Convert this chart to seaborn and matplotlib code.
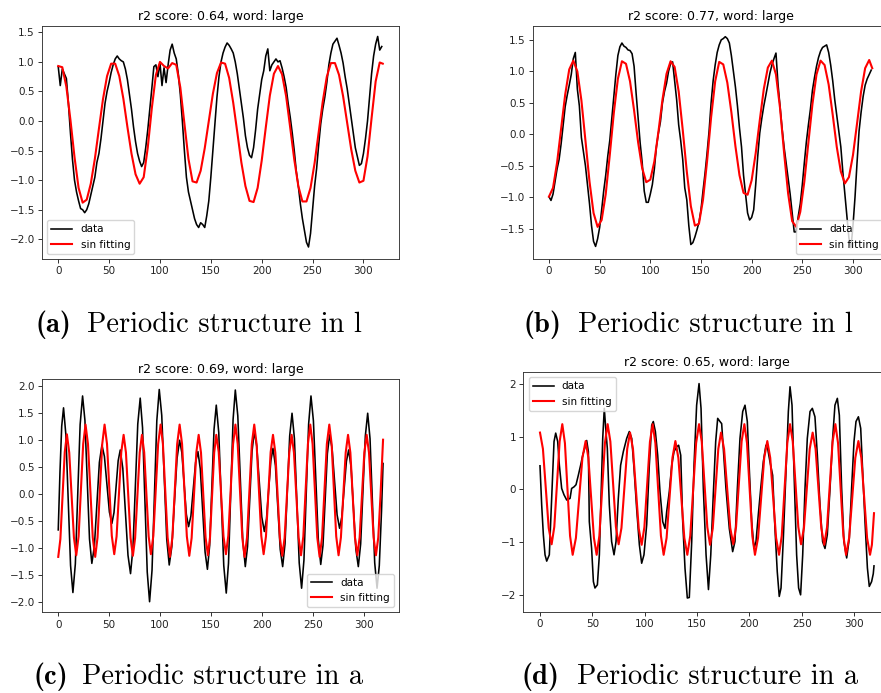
import numpy as np
import matplotlib
matplotlib.use("Agg")
import matplotlib.pyplot as plt
import seaborn as sns

# ---------------- data ----------------
titles = ["r2 score: 0.64, word: large", "r2 score: 0.77, word: large",
          "r2 score: 0.69, word: large", "r2 score: 0.65, word: large"]
caption_tags = ["(a)", "(b)", "(c)", "(d)"]
caption_texts = ["Periodic structure in l", "Periodic structure in l",
                 "Periodic structure in a", "Periodic structure in a"]
legend_labels = ["data", "sin fitting"]

x_data_ab = list(range(0, 320, 2))
x_fit_ab = list(range(0, 317, 4)) + [319]

data_a = [0.92, 0.60, 0.88, 0.80, 0.72, 0.30, -0.20, -0.65, -1.00, -1.20,
          -1.35, -1.48, -1.50, -1.55, -1.50, -1.40, -1.25, -1.10, -0.95, -0.70,
          -0.55, -0.30, 0.00, 0.30, 0.50, 0.65, 0.82, 0.95, 1.05, 1.10,
          1.05, 1.02, 1.00, 0.88, 0.70, 0.45, 0.20, -0.10, -0.35, -0.55,
          -0.68, -0.77, -0.70, -0.45, -0.15, 0.20, 0.55, 0.92, 0.95, 0.75,
          0.98, 0.60, 0.90, 0.65, 0.95, 1.20, 1.30, 1.15, 1.05, 0.80,
          0.45, 0.00, -0.50, -0.95, -1.20, -1.35, -1.50, -1.65, -1.75, -1.80,
          -1.72, -1.75, -1.80, -1.60, -1.35, -0.95, -0.50, -0.05, 0.40, 0.75,
          1.00, 1.15, 1.25, 1.32, 1.28, 1.22, 1.15, 1.00, 0.80, 0.55,
          0.30, 0.05, -0.25, -0.45, -0.58, -0.62, -0.45, -0.15, 0.20, 0.45,
          0.70, 0.85, 1.10, 1.22, 0.85, 0.95, 1.00, 1.05, 1.00, 1.02,
          0.90, 0.75, 0.57, 0.30, 0.07, -0.20, -0.50, -0.85, -1.10, -1.40,
          -1.65, -1.85, -2.05, -2.13, -1.90, -1.50, -1.10, -0.80, -0.40, -0.05,
          0.20, 0.40, 0.65, 0.95, 1.15, 1.30, 1.35, 1.40, 1.28, 1.15,
          0.98, 0.75, 0.55, 0.30, 0.05, -0.20, -0.45, -0.60, -0.75, -0.72,
          -0.55, -0.30, 0.00, 0.40, 0.80, 1.10, 1.30, 1.43, 1.20, 1.26]

fit_a = [0.93, 0.91, 0.58, 0.02, -0.61, -1.13, -1.38, -1.33, -1.06, -0.64,
         -0.13, 0.37, 0.76, 0.97, 0.97, 0.76, 0.38, -0.10, -0.55, -0.90,
         -1.06, -0.95, -0.45, 0.22, 0.78, 1.00, 0.93, 0.89, 0.98, 0.95,
         0.57, -0.04, -0.64, -1.02, -1.04, -0.84, -0.46, 0.00, 0.46, 0.81,
         0.99, 0.97, 0.73, 0.31, -0.19, -0.70, -1.10, -1.35, -1.37, -1.13,
         -0.67, -0.11, 0.43, 0.80, 0.93, 0.79, 0.42, -0.11, -0.65, -1.10,
         -1.36, -1.36, -1.13, -0.71, -0.19, 0.33, 0.75, 0.98, 0.98, 0.78,
         0.42, -0.03, -0.48, -0.84, -1.04, -1.01, -0.60, 0.05, 0.67, 0.99, 0.97]

data_b = [-0.99, -1.05, -0.95, -0.75, -0.55, -0.40, -0.15, 0.15, 0.44, 0.62,
          0.78, 0.95, 1.20, 1.30, 0.72, 0.45, -0.05, -0.28, -0.50, -0.80,
          -1.10, -1.45, -1.70, -1.78, -1.66, -1.48, -1.20, -0.90, -0.65, -0.35,
          -0.10, 0.25, 0.60, 0.95, 1.25, 1.39, 1.45, 1.40, 1.38, 1.34,
          1.33, 1.28, 1.08, 0.65, 0.25, -0.14, -0.45, -0.90, -1.08, -1.08,
          -0.95, -0.80, -0.55, -0.20, 0.02, 0.20, 0.50, 0.68, 0.81, 1.00,
          1.12, 1.15, 0.85, 0.55, 0.15, -0.10, -0.40, -0.85, -1.04, -1.45,
          -1.75, -1.72, -1.63, -1.52, -1.40, -1.20, -0.90, -0.62, -0.30, 0.05,
          0.50, 0.85, 1.10, 1.30, 1.42, 1.50, 1.52, 1.55, 1.52, 1.45,
          1.25, 1.00, 0.75, 0.45, 0.10, -0.20, -0.65, -0.95, -1.25, -1.36,
          -1.32, -1.20, -0.80, -0.35, 0.02, 0.25, 0.45, 0.62, 0.80, 0.97,
          1.10, 1.20, 1.29, 0.80, 0.45, 0.10, -0.20, -0.45, -0.70, -0.95,
          -1.25, -1.55, -1.55, -1.30, -1.10, -0.80, -0.45, -0.12, 0.15, 0.40,
          0.70, 0.90, 1.08, 1.22, 1.32, 1.38, 1.40, 1.42, 1.30, 1.10,
          0.85, 0.55, 0.30, 0.05, -0.20, -0.60, -0.95, -1.30, -1.65, -1.80,
          -1.45, -1.00, -0.45, 0.05, 0.35, 0.60, 0.78, 0.88, 0.95, 1.02]

fit_b = [-0.99, -0.85, -0.45, 0.09, 0.63, 1.03, 1.17, 1.00, 0.54, -0.10,
         -0.75, -1.25, -1.47, -1.36, -0.95, -0.33, 0.34, 0.88, 1.16, 1.12,
         0.84, 0.38, -0.13, -0.54, -0.76, -0.72, -0.43, 0.04, 0.55, 0.96,
         1.16, 1.07, 0.68, 0.07, -0.59, -1.14, -1.45, -1.42, -1.04, -0.43,
         0.27, 0.84, 1.15, 1.11, 0.82, 0.35, -0.19, -0.65, -0.93, -0.96,
         -0.73, -0.30, 0.22, 0.72, 1.06, 1.17, 0.95, 0.42, -0.29, -0.94,
         -1.38, -1.47, -1.23, -0.75, -0.13, 0.48, 0.95, 1.17, 1.10, 0.79,
         0.31, -0.20, -0.59, -0.78, -0.68, -0.33, 0.17, 0.68, 1.05, 1.18, 1.05]

x_data_c = [0, 1.7, 3.4, 5.2, 7.5, 9.8, 12.1, 14.4, 16.8, 19.15, 21.5, 23.9,
            26.2, 28.45, 30.7, 33.0, 35.5, 37.95, 40.4, 42.9, 45.35, 47.8, 50.25, 52.7,
            54.75, 56.8, 58.85, 60.9, 63.4, 65.95, 68.5, 71.0, 73.4, 75.75, 78.1, 80.5,
            82.8, 85.1, 87.4, 89.7, 92.1, 94.45, 96.8, 99.2, 101.65, 104.1, 106.55, 109.0,
            111.55, 114.1, 116.65, 119.2, 121.4, 123.6, 125.8, 128.0, 130.3, 132.6, 134.9, 137.2,
            139.5, 141.85, 144.2, 146.5, 148.7, 150.85, 153.0, 155.2, 157.65, 160.1, 162.55, 165.0,
            167.2, 169.45, 171.7, 173.9, 176.35, 178.8, 181.25, 183.7, 185.9, 188.1, 190.3, 192.5,
            194.95, 197.45, 199.9, 202.4, 204.5, 206.65, 208.8, 210.9, 213.3, 215.65, 218.0, 220.4,
            222.7, 225.0, 227.3, 229.6, 231.95, 234.3, 236.65, 239.0, 241.3, 243.6, 245.9, 248.2,
            250.6, 253.0, 255.4, 257.8, 260.0, 262.15, 264.3, 266.5, 268.95, 271.4, 273.85, 276.3,
            278.5, 280.75, 283.0, 285.2, 287.6, 289.95, 292.3, 294.7, 297.0, 299.3, 301.6, 303.9,
            306.2, 308.5, 310.8, 313.1, 315.3, 317.5, 319.0]
data_c = [-0.67, 0.40, 1.25, 1.59, 1.09, -0.12, -1.33, -1.83, -1.30, -0.01, 1.28, 1.81,
          1.36, 0.26, -0.84, -1.29, -0.97, -0.20, 0.58, 0.90, 0.69, 0.18, -0.34, -0.55,
          -0.35, 0.13, 0.61, 0.81, 0.47, -0.34, -1.14, -1.48, -1.00, 0.15, 1.29, 1.77,
          1.22, -0.12, -1.45, -2.00, -1.42, -0.04, 1.35, 1.93, 1.45, 0.31, -0.84, -1.32,
          -0.98, -0.17, 0.65, 0.99, 0.76, 0.19, -0.38, -0.61, -0.41, 0.09, 0.58, 0.78,
          0.46, -0.31, -1.08, -1.40, -0.96, 0.12, 1.19, 1.64, 1.13, -0.10, -1.33, -1.84,
          -1.29, 0.04, 1.37, 1.92, 1.44, 0.29, -0.87, -1.35, -0.98, -0.10, 0.78, 1.15,
          0.88, 0.23, -0.43, -0.70, -0.47, 0.07, 0.61, 0.84, 0.52, -0.26, -1.03, -1.35,
          -0.93, 0.07, 1.07, 1.49, 1.02, -0.13, -1.28, -1.75, -1.23, 0.03, 1.29, 1.81,
          1.35, 0.25, -0.85, -1.31, -0.96, -0.11, 0.74, 1.09, 0.84, 0.23, -0.39, -0.64,
          -0.43, 0.09, 0.60, 0.81, 0.49, -0.27, -1.03, -1.35, -0.93, 0.07, 1.07, 1.49,
          1.02, -0.13, -1.28, -1.75, -1.33, -0.32, 0.56]

x_fit_c = [0, 2.1, 4.25, 6.4, 8.5, 10.8, 13.1, 15.4, 17.7, 20.0, 22.25, 24.5, 26.8,
           29.2, 31.55, 33.9, 36.3, 38.6, 40.9, 43.2, 45.5, 47.9, 50.25, 52.6, 55.0,
           57.3, 59.6, 61.9, 64.2, 66.5, 68.75, 71.0, 73.3, 75.5, 77.75, 80.0, 82.2,
           84.4, 86.6, 88.8, 91.0, 93.4, 95.75, 98.1, 100.5, 102.8, 105.1, 107.4, 109.7,
           112.1, 114.45, 116.8, 119.2, 121.6, 123.95, 126.3, 128.7, 131.0, 133.3, 135.6, 137.9,
           140.2, 142.45, 144.7, 147.0, 149.05, 151.1, 153.15, 155.2, 157.6, 159.95, 162.3, 164.7,
           167.0, 169.35, 171.7, 174.0, 176.25, 178.5, 180.75, 183.0, 185.4, 187.75, 190.1, 192.5,
           194.8, 197.1, 199.4, 201.7, 204.0, 206.3, 208.6, 210.9, 213.2, 215.45, 217.7, 220.0,
           222.3, 224.6, 226.9, 229.2, 231.5, 233.8, 236.1, 238.4, 240.7, 242.95, 245.2, 247.5,
           249.8, 252.1, 254.4, 256.7, 259.1, 261.45, 263.8, 266.2, 268.5, 270.75, 273.0, 275.3,
           277.6, 279.95, 282.3, 284.6, 286.9, 289.15, 291.4, 293.7, 296.0, 298.3, 300.6, 302.9,
           305.2, 307.45, 309.7, 312.0, 314.3, 316.5, 318.2, 319.0]
fit_c = [-1.17, -0.84, -0.03, 0.77, 1.10, 0.76, -0.02, -0.81, -1.14, -0.79, 0.07, 0.92, 1.28,
         0.92, 0.06, -0.81, -1.17, -0.81, 0.06, 0.92, 1.28, 0.92, 0.08, -0.78, -1.12,
         -0.79, -0.01, 0.77, 1.09, 0.76, -0.03, -0.82, -1.15, -0.82, -0.03, 0.76, 1.09,
         0.77, -0.01, -0.79, -1.12, -0.78, 0.08, 0.92, 1.28, 0.92, 0.06, -0.81, -1.17,
         -0.81, 0.06, 0.92, 1.28, 0.92, 0.07, -0.79, -1.15, -0.82, -0.03, 0.76, 1.09,
         0.76, -0.03, -0.81, -1.14, -0.81, -0.03, 0.76, 1.09, 0.77, -0.01, -0.79, -1.12,
         -0.78, 0.08, 0.92, 1.28, 0.92, 0.06, -0.81, -1.17, -0.81, 0.06, 0.92, 1.28,
         0.92, 0.08, -0.78, -1.12, -0.79, -0.01, 0.77, 1.09, 0.76, -0.03, -0.82, -1.15,
         -0.82, -0.03, 0.76, 1.09, 0.76, -0.03, -0.81, -1.14, -0.79, 0.07, 0.92, 1.28,
         0.92, 0.06, -0.81, -1.17, -0.81, 0.06, 0.92, 1.28, 0.92, 0.07, -0.79, -1.14,
         -0.81, -0.03, 0.76, 1.09, 0.76, -0.03, -0.81, -1.14, -0.81, -0.03, 0.76, 1.09,
         0.76, -0.03, -0.81, -1.14, -0.81, -0.03, 0.65, 1.00]

x_data_d = [0, 1.6, 3.2, 4.8, 6.4, 8.9, 10.2, 11.8, 13.4, 15.0, 16.9, 18.5, 20.7, 22.9,
            25.5, 28.7, 30.2, 32.5, 34.4, 36.6, 38.8, 40.8, 42.7, 44.6, 46.2, 47.1, 49.3,
            51.0, 52.5, 54.8, 56.7, 58.3, 59.9, 61.4, 63.0, 64.3, 66.2, 68.4, 70.7, 72.6,
            74.8, 77.0, 79.6, 82.8, 85.3, 87.6, 89.8, 92.3, 94.9, 97.1, 99.3, 101.9, 104.4,
            106.7, 108.2, 110.2, 112.4, 114.6, 117.2, 119.4, 121.0, 123.5, 125.8, 128.0, 130.5,
            132.4, 134.4, 136.3, 138.5, 140.7, 142.6, 144.9, 147.1, 149.6, 151.9, 153.8, 156.0,
            158.6, 160.9, 163.1, 165.5, 167.8, 169.7, 171.9, 173.5, 175.1, 177.6, 180.8, 184.0,
            186.2, 188.5, 191.0, 193.6, 195.8, 198.0, 200.0, 202.2, 204.4, 206.3, 208.5, 210.8,
            213.3, 215.8, 217.4, 219.6, 222.2, 224.4, 226.6, 228.5, 230.2, 232.4, 234.9, 237.2,
            238.8, 240.7, 242.6, 245.1, 247.0, 248.9, 250.9, 253.1, 255.3, 257.9, 260.1, 262.6,
            264.9, 267.4, 269.9, 272.2, 274.4, 277.0, 279.5, 281.7, 284.0, 285.9, 288.1, 290.3,
            292.9, 295.4, 297.6, 299.9, 301.8, 304.1, 306.3, 308.2, 310.4, 312.7, 314.5, 316.7,
            318.3, 319.0]
data_d = [0.45, -0.29, -0.86, -1.24, -1.36, -1.24, -0.61, 0.15, 0.91, 1.07, 0.91, 0.46, 0.02, -0.10,
          -0.20, -0.17, 0.02, 0.05, 0.09, 0.27, 0.46, 0.65, 0.78, 0.93, 0.72, -0.61, -1.12,
          -1.75, -1.87, -1.81, -1.24, -0.10, 0.97, 1.54, 1.10, 0.78, -0.29, -0.99, -1.24, -0.99,
          -0.17, 0.46, 0.72, 0.97, 1.10, 0.97, 0.40, -0.36, -1.05, -1.40, -1.24, -0.67, 0.46,
          1.22, 1.29, 1.10, 0.65, -0.04, -0.61, -0.74, -0.42, -0.04, 0.46, 0.72, 0.81,
          0.84, 0.65, -0.61, -1.50, -2.06, -2.05, -0.99, 0.46, 1.60, 2.01, 1.54, 0.02,
          -1.24, -1.90, -1.24, -0.10, 0.91, 1.35, 1.29, 1.25, 0.78, 0.02, -0.74, -1.18,
          -0.99, 0.02, 0.97, 1.48, 1.60, 1.29, 0.34, -0.61, -1.12, -0.99, -0.48, 0.02,
          0.53, 0.84, 0.78, 0.53, 0.27, -0.74, -1.56, -2.03, -1.87, -0.93, 0.34, 1.48,
          1.95, 1.60, 0.34, -1.24, -1.87, -2.00, -1.24, 0.02, 0.97, 1.48, 1.54, 1.38,
          0.65, -0.29, -0.99, -1.12, -0.86, 0.02, 0.97, 1.60, 1.73, 1.41, 0.02, -0.99,
          -1.30, -0.93, 0.02, 0.91, 1.29, 1.38, 1.16, 0.34, -0.61, -1.49, -1.84, -1.75,
          -1.60, -1.45]

x_fit_d = [0, 2.8, 5.55, 8.3, 11.1, 13.65, 16.2, 18.75, 21.3, 23.8, 26.25, 28.7, 31.2,
           34.3, 37.4, 40.5, 43.6, 46.2, 48.85, 51.5, 54.1, 56.7, 59.35, 62.0, 64.6,
           67.2, 69.85, 72.5, 75.1, 77.8, 80.55, 83.3, 86.0, 88.8, 91.55, 94.3, 97.1,
           99.7, 102.35, 105.0, 107.6, 110.2, 112.85, 115.5, 118.1, 120.9, 123.7, 126.5, 129.3,
           132.15, 135.0, 137.85, 140.7, 143.5, 146.3, 149.1, 151.9, 154.5, 157.15, 159.8, 162.4,
           165.0, 167.65, 170.3, 172.9, 175.8, 178.75, 181.7, 184.6, 187.25, 189.9, 192.55, 195.2,
           197.7, 200.25, 202.8, 205.3, 208.25, 211.2, 214.15, 217.1, 219.9, 222.7, 225.5, 228.3,
           230.9, 233.55, 236.2, 238.8, 241.4, 244.05, 246.7, 249.3, 252.1, 254.85, 257.6, 260.4,
           263.2, 265.95, 268.7, 271.5, 274.15, 276.8, 279.45, 282.1, 284.65, 287.2, 289.75, 292.3,
           295.25, 298.2, 301.15, 304.1, 306.9, 309.65, 312.4, 315.2, 317.0, 319.0]
fit_d = [1.08, 0.77, 0.02, -0.73, -1.04, -0.71, 0.10, 0.91, 1.24, 0.88, 0.00, -0.88, -1.24,
         -0.92, -0.16, 0.60, 0.92, 0.60, -0.16, -0.92, -1.24, -0.88, 0.00, 0.88, 1.24,
         0.91, 0.10, -0.71, -1.04, -0.73, 0.02, 0.77, 1.08, 0.77, 0.015, -0.74, -1.05,
         -0.715, 0.095, 0.905, 1.24, 0.88, 0.00, -0.88, -1.24, -0.92, -0.16, 0.60, 0.92,
         0.60, -0.16, -0.92, -1.24, -0.88, 0.00, 0.88, 1.24, 0.905, 0.095, -0.715, -1.05,
         -0.74, 0.015, 0.77, 1.08, 0.77, 0.02, -0.73, -1.04, -0.71, 0.10, 0.91, 1.24,
         0.88, 0.00, -0.88, -1.24, -0.92, -0.16, 0.60, 0.92, 0.60, -0.16, -0.92, -1.24,
         -0.88, 0.00, 0.88, 1.24, 0.91, 0.10, -0.71, -1.04, -0.73, 0.02, 0.77, 1.08,
         0.77, 0.015, -0.74, -1.05, -0.715, 0.095, 0.905, 1.24, 0.88, 0.00, -0.88, -1.24,
         -0.92, -0.16, 0.60, 0.92, 0.60, -0.16, -0.92, -1.24, -1.05, -0.45]

# ---------------- layout ----------------
W, H = 881, 693
plt.rcParams["axes.linewidth"] = 0.65
plt.rcParams["xtick.major.width"] = 0.65
plt.rcParams["ytick.major.width"] = 0.65
plt.rcParams["xtick.major.size"] = 2.6
plt.rcParams["ytick.major.size"] = 2.6
plt.rcParams["xtick.major.pad"] = 2.6
plt.rcParams["ytick.major.pad"] = 2.6

fig = plt.figure(figsize=(W / 100, H / 100), dpi=100)


def px_axes(l, t, r, b):
    return fig.add_axes([l / W, 1 - b / H, (r - l) / W, (b - t) / H])


panels = [
    dict(box=(42, 26, 399, 259), ylim=(-2.333, 1.607), loc="lower left",
         xd=x_data_ab, yd=data_a, xf=x_fit_ab, yf=fit_a),
    dict(box=(532.8, 26, 888.4, 259), ylim=(-1.98, 1.72), loc="lower right",
         xd=x_data_ab, yd=data_b, xf=x_fit_ab, yf=fit_b),
    dict(box=(42, 379, 399.3, 612.3), ylim=(-2.196, 2.124), loc="lower right",
         xd=x_data_c, yd=data_c, xf=x_fit_c, yf=fit_c),
    dict(box=(523.3, 372, 890.7, 611.7), ylim=(-2.32, 2.23), loc="upper left",
         xd=x_data_d, yd=data_d, xf=x_fit_d, yf=fit_d),
]
# (tag x, text x, baseline y) in pixels
caption_pos = [(35, 87, 332), (524, 578, 332), (33, 82, 684), (522, 577, 684)]
cap_size = 20.5

for i, p in enumerate(panels):
    ax = px_axes(*p["box"])
    sns.lineplot(x=p["xd"], y=p["yd"], ax=ax, color="black", linewidth=1.15,
                 label=legend_labels[0])
    sns.lineplot(x=p["xf"], y=p["yf"], ax=ax, color="red", linewidth=1.5,
                 label=legend_labels[1])
    ax.set_xlim(-15.95, 334.95)
    ax.set_ylim(*p["ylim"])
    ax.set_xticks([0, 50, 100, 150, 200, 250, 300])
    ax.tick_params(labelsize=7.5, colors="#222222")
    for s in ax.spines.values():
        s.set_color("#333333")
    ax.set_xlabel("")
    ax.set_ylabel("")
    ax.set_title(titles[i], fontsize=9, pad=4.5)
    ax.legend(loc=p["loc"], fontsize=7.5)
    tx, cx, cy = caption_pos[i]
    fig.text(tx / W, 1 - cy / H, caption_tags[i], fontsize=cap_size, family="cmb10",
             ha="left", va="baseline")
    fig.text(cx / W, 1 - cy / H, caption_texts[i], fontsize=cap_size, family="cmr10",
             ha="left", va="baseline")

fig.savefig("out.png", dpi=100)
